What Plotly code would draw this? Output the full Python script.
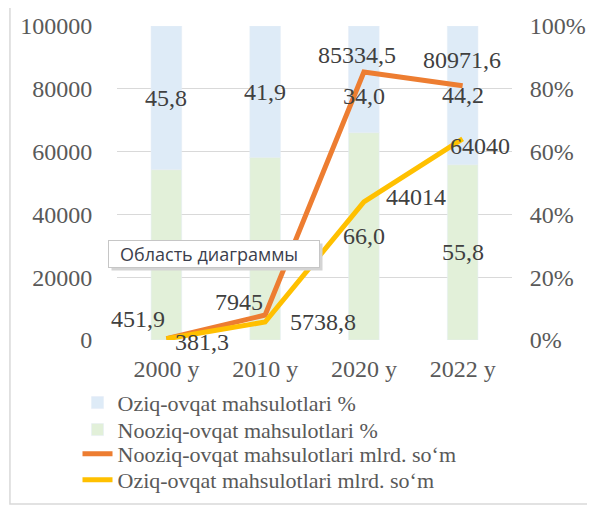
import plotly.graph_objects as go

# data
years = ["2000 y", "2010 y", "2020 y", "2022 y"]
food_pct = [45.8, 41.9, 34.0, 44.2]          # Oziq-ovqat %
nonfood_pct = [54.2, 58.1, 66.0, 55.8]       # Nooziq-ovqat %
nonfood_mlrd = [451.9, 7945, 85334.5, 80971.6]
food_mlrd = [381.3, 5738.8, 44014, 64040]

nonfood_mlrd_lbl = ["451,9", "7945", "85334,5", "80971,6"]
food_mlrd_lbl = ["381,3", "5738,8", "44014", "64040"]
pct_ticks = [0, 20, 40, 60, 80, 100]
mlrd_ticks = [0, 20000, 40000, 60000, 80000, 100000]

# label offsets in px (x, y) — style only
nonfood_off = [(-28, 20), (-26, 13), (-7, 17), (-1, 26)]
food_off = [(36, -3), (58, 0), (52, 5), (17, -7)]
food_pct_yshift = [0, 0, -17, 0]
show_nonfood_pct = [False, False, True, True]  # first two hidden under tooltip

FONT = "Liberation Serif"
TXT = "#404040"
AX = "#595959"
FS = 24

fig = go.Figure()

fig.add_trace(go.Bar(
    name="Oziq-ovqat mahsulotlari %",
    x=years, y=food_pct, base=nonfood_pct,
    marker_color="#DEEBF7", width=0.31, yaxis="y",
    hoverinfo="skip", legend="legend",
))
fig.add_trace(go.Bar(
    name="Nooziq-ovqat mahsulotlari %",
    x=years, y=nonfood_pct,
    marker_color="#E2F0D9", width=0.31, yaxis="y",
    hoverinfo="skip", legend="legend2",
))
fig.add_trace(go.Scatter(
    name="Nooziq-ovqat mahsulotlari mlrd. so‘m",
    x=years, y=nonfood_mlrd, mode="lines", yaxis="y2",
    line=dict(color="#ED7D31", width=5), legend="legend3",
))
fig.add_trace(go.Scatter(
    name="Oziq-ovqat mahsulotlari mlrd. so‘m",
    x=years, y=food_mlrd, mode="lines", yaxis="y2",
    line=dict(color="#FFC000", width=5), legend="legend4",
))

# bar segment labels
for i, yr in enumerate(years):
    fig.add_annotation(x=yr, y=nonfood_pct[i] + food_pct[i] / 2, yref="y",
                       text=f"{food_pct[i]:.1f}".replace(".", ","),
                       yshift=food_pct_yshift[i], showarrow=False,
                       font=dict(family=FONT, size=FS, color=TXT))
    if show_nonfood_pct[i]:
        fig.add_annotation(x=yr, y=nonfood_pct[i] / 2, yref="y",
                           text=f"{nonfood_pct[i]:.1f}".replace(".", ","),
                           showarrow=False,
                           font=dict(family=FONT, size=FS, color=TXT))

# line labels
for i, yr in enumerate(years):
    fig.add_annotation(x=yr, y=nonfood_mlrd[i], yref="y2", text=nonfood_mlrd_lbl[i],
                       xshift=nonfood_off[i][0], yshift=nonfood_off[i][1],
                       showarrow=False, font=dict(family=FONT, size=FS, color=TXT))
    fig.add_annotation(x=yr, y=food_mlrd[i], yref="y2", text=food_mlrd_lbl[i],
                       xshift=food_off[i][0], yshift=food_off[i][1],
                       showarrow=False, font=dict(family=FONT, size=FS, color=TXT))

# Excel tooltip "Область диаграммы" (shadow + box)
fig.add_annotation(xref="paper", yref="paper", x=-0.0228 + 0.007, y=0.274 - 0.009,
                   xanchor="left", yanchor="middle", text=" ", width=206, height=22,
                   bgcolor="#d4d4d4", showarrow=False, borderpad=2)
fig.add_annotation(xref="paper", yref="paper", x=-0.0228, y=0.274,
                   xanchor="left", yanchor="middle", text="\u2002Область диаграммы",
                   align="left", width=206, height=22, borderpad=2,
                   bgcolor="white", bordercolor="#c6c6c6", borderwidth=1,
                   showarrow=False, font=dict(family="Open Sans", size=18, color="#3b3e4c"))

# outer frame
fig.add_shape(type="rect", xref="paper", yref="paper",
              x0=-0.271, x1=1.192, y0=-0.522, y1=1.064,
              line=dict(color="#D9D9D9", width=1.5), layer="below")

leg = dict(x=-0.10, xanchor="left", yanchor="middle",
           font=dict(family=FONT, size=22, color=AX), bgcolor="rgba(0,0,0,0)")

fig.update_layout(
    width=595, height=506,
    margin=dict(l=109, r=91, t=18, b=174, autoexpand=False),
    paper_bgcolor="white", plot_bgcolor="white",
    font=dict(family=FONT, size=FS, color=AX),
    barmode="overlay",
    showlegend=True,
    xaxis=dict(range=[-0.5, 3.5], showgrid=False, showline=False, ticks="outside",
               ticklen=7, tickcolor="rgba(0,0,0,0)",
               tickfont=dict(family=FONT, size=FS, color=AX)),
    yaxis=dict(range=[0, 100], side="right", tickvals=pct_ticks,
               ticktext=[f"{v}%" for v in pct_ticks],
               showgrid=True, gridcolor="#D9D9D9", gridwidth=1,
               zeroline=False, ticks="outside", ticklen=12,
               tickcolor="rgba(0,0,0,0)", tickfont=dict(family=FONT, size=FS, color=AX)),
    yaxis2=dict(range=[0, 100000], side="left", overlaying="y",
                tickvals=mlrd_ticks, ticktext=[str(v) for v in mlrd_ticks],
                showgrid=False, zeroline=False,
                ticks="outside", ticklen=19, tickcolor="rgba(0,0,0,0)",
                tickfont=dict(family=FONT, size=FS, color=AX)),
    legend=dict(leg, y=-0.2),
    legend2=dict(leg, y=-0.286),
    legend3=dict(leg, y=-0.363),
    legend4=dict(leg, y=-0.446),
)

fig.write_html("out.html")
